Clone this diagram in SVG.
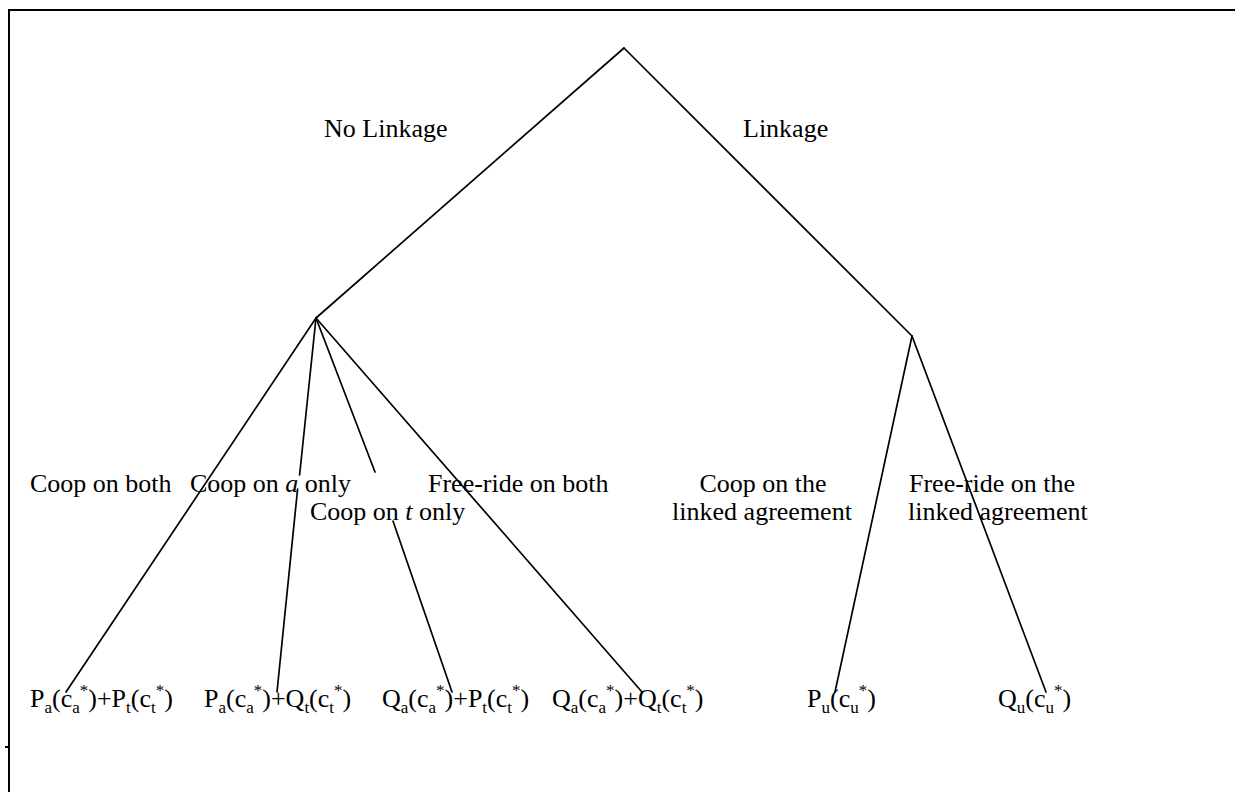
<svg xmlns="http://www.w3.org/2000/svg" width="1235" height="792" viewBox="0 0 1235 792">
<style>
.t{font-family:"Liberation Serif","Times New Roman",serif;font-size:26px;fill:#000}
.s{font-size:17px}
.i{font-style:italic}
.e{stroke:#000;stroke-width:1.7;fill:none;stroke-linecap:round}
.f{stroke:#000;stroke-width:2;fill:none}
</style>
<rect width="1235" height="792" fill="#fff"/>
<g id="frame">
<path class="f" d="M9,792 V10 H1235"/>
<path class="f" d="M5,747 H9"/>
</g>
<g id="connectors">
<line class="e" x1="624" y1="48" x2="316" y2="318"/>
<line class="e" x1="624" y1="48" x2="912" y2="336"/>
<line class="e" x1="316" y1="318" x2="66" y2="692"/>
<line class="e" x1="316" y1="318" x2="299.6" y2="475"/>
<line class="e" x1="297.6" y1="489" x2="277" y2="692"/>
<line class="e" x1="316" y1="318" x2="375" y2="472"/>
<line class="e" x1="393" y1="521" x2="452" y2="692"/>
<line class="e" x1="316" y1="318" x2="642" y2="692"/>
<line class="e" x1="912" y1="336" x2="835" y2="692"/>
<line class="e" x1="912" y1="336" x2="1046" y2="692"/>
</g>
<g id="edge-labels">
<text class="t" x="324" y="137">No Linkage</text>
<text class="t" x="743" y="137">Linkage</text>
<text class="t" x="30" y="492">Coop on both</text>
<text class="t" x="190" y="492">Coop on <tspan class="i">a</tspan> only</text>
<text class="t" x="310" y="520">Coop on <tspan class="i">t</tspan> only</text>
<text class="t" x="428" y="492">Free-ride on both</text>
<text class="t" x="763" y="492" text-anchor="middle">Coop on the</text>
<text class="t" x="762" y="520" text-anchor="middle">linked agreement</text>
<text class="t" x="909" y="492">Free-ride on the</text>
<text class="t" x="908" y="520">linked agreement</text>
</g>
<g id="leaf1">
<text class="t" x="30" y="707">P<tspan class="s" dy="6">a</tspan><tspan dy="-6">(c</tspan><tspan class="s" dy="6">a</tspan><tspan class="s" dy="-17">*</tspan><tspan dy="11">)+P</tspan><tspan class="s" dy="6">t</tspan><tspan dy="-6">(c</tspan><tspan class="s" dy="6">t</tspan><tspan class="s" dy="-17">*</tspan><tspan dy="11">)</tspan></text>
</g>
<g id="leaf2">
<text class="t" x="204" y="707">P<tspan class="s" dy="6">a</tspan><tspan dy="-6">(c</tspan><tspan class="s" dy="6">a</tspan><tspan class="s" dy="-17">*</tspan><tspan dy="11">)+Q</tspan><tspan class="s" dy="6">t</tspan><tspan dy="-6">(c</tspan><tspan class="s" dy="6">t</tspan><tspan class="s" dy="-17">*</tspan><tspan dy="11">)</tspan></text>
</g>
<g id="leaf3">
<text class="t" x="382" y="707">Q<tspan class="s" dy="6">a</tspan><tspan dy="-6">(c</tspan><tspan class="s" dy="6">a</tspan><tspan class="s" dy="-17">*</tspan><tspan dy="11">)+P</tspan><tspan class="s" dy="6">t</tspan><tspan dy="-6">(c</tspan><tspan class="s" dy="6">t</tspan><tspan class="s" dy="-17">*</tspan><tspan dy="11">)</tspan></text>
</g>
<g id="leaf4">
<text class="t" x="552" y="707">Q<tspan class="s" dy="6">a</tspan><tspan dy="-6">(c</tspan><tspan class="s" dy="6">a</tspan><tspan class="s" dy="-17">*</tspan><tspan dy="11">)+Q</tspan><tspan class="s" dy="6">t</tspan><tspan dy="-6">(c</tspan><tspan class="s" dy="6">t</tspan><tspan class="s" dy="-17">*</tspan><tspan dy="11">)</tspan></text>
</g>
<g id="leaf5">
<text class="t" x="807" y="707">P<tspan class="s" dy="6">u</tspan><tspan dy="-6">(c</tspan><tspan class="s" dy="6">u</tspan><tspan class="s" dy="-17">*</tspan><tspan dy="11">)</tspan></text>
</g>
<g id="leaf6">
<text class="t" x="998" y="707">Q<tspan class="s" dy="6">u</tspan><tspan dy="-6">(c</tspan><tspan class="s" dy="6">u</tspan><tspan class="s" dy="-17">*</tspan><tspan dy="11">)</tspan></text>
</g>
</svg>
